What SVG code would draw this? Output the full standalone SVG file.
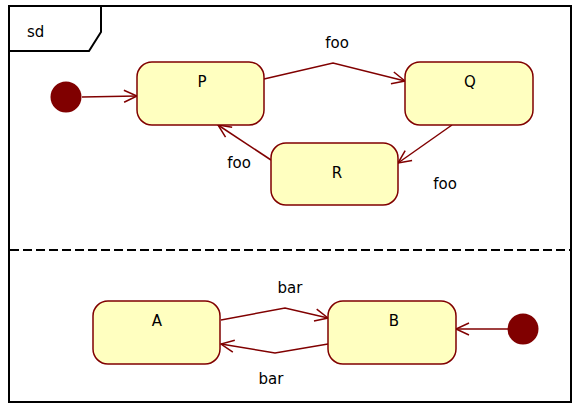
<svg xmlns="http://www.w3.org/2000/svg" width="578" height="407" viewBox="0 0 578 407">
<style>
.frame{fill:none;stroke:#000;stroke-width:2}
.state{fill:#FFFFC0;stroke:#800000;stroke-width:1.5}
.init{fill:#800000}
.edge{fill:none;stroke:#800000;stroke-width:1.5;marker-end:url(#arr)}
text{font-family:"DejaVu Sans","Liberation Sans",sans-serif;font-size:15px;fill:#000}
.c{text-anchor:middle}
</style>
<defs>
<marker id="arr" markerUnits="userSpaceOnUse" viewBox="-1 -1 15 14" refX="13" refY="6" markerWidth="15" markerHeight="14" orient="auto" overflow="visible">
<path d="M0,0 L13,6 L0,12" fill="none" stroke="#800000" stroke-width="1.5"/>
</marker>
</defs>
<rect x="0" y="0" width="578" height="407" fill="#fff"/>
<g id="frame">
<rect class="frame" x="9" y="6" width="562" height="396"/>
<path class="frame" d="M9,51 H89 L101,32 V6"/>
<text x="27" y="37">sd</text>
<line x1="10" y1="250" x2="570" y2="250" stroke="#000" stroke-width="2" stroke-dasharray="9,4"/>
</g>
<g id="connectors">
<path class="edge" d="M82,97 L137,96"/>
<path class="edge" d="M264,79 L333,63 L405,81"/>
<path class="edge" d="M452,125 L398,163"/>
<path class="edge" d="M271,160 L218,125"/>
<path class="edge" d="M221,320 L285,308 L328,318"/>
<path class="edge" d="M328,344 L275,353 L221,344"/>
<path class="edge" d="M508,329 L456,329"/>
<text x="337" y="48" class="c">foo</text>
<text x="445" y="189" class="c">foo</text>
<text x="239" y="168" class="c">foo</text>
<text x="290" y="293" class="c">bar</text>
<text x="271" y="384" class="c">bar</text>
</g>
<g id="init1"><circle class="init" cx="66" cy="97" r="15.5"/></g>
<g id="P"><rect class="state" x="137" y="62" width="127" height="63" rx="15" ry="15"/><text x="202" y="87" class="c">P</text></g>
<g id="Q"><rect class="state" x="405" y="62" width="128" height="63" rx="15" ry="15"/><text x="470" y="87" class="c">Q</text></g>
<g id="R"><rect class="state" x="271" y="143" width="127" height="62" rx="15" ry="15"/><text x="337" y="178" class="c">R</text></g>
<g id="A"><rect class="state" x="93" y="301" width="127" height="63" rx="15" ry="15"/><text x="157" y="326" class="c">A</text></g>
<g id="B"><rect class="state" x="328" y="301" width="128" height="63" rx="15" ry="15"/><text x="394" y="326" class="c">B</text></g>
<g id="init2"><circle class="init" cx="523" cy="329" r="15.5"/></g>
</svg>
